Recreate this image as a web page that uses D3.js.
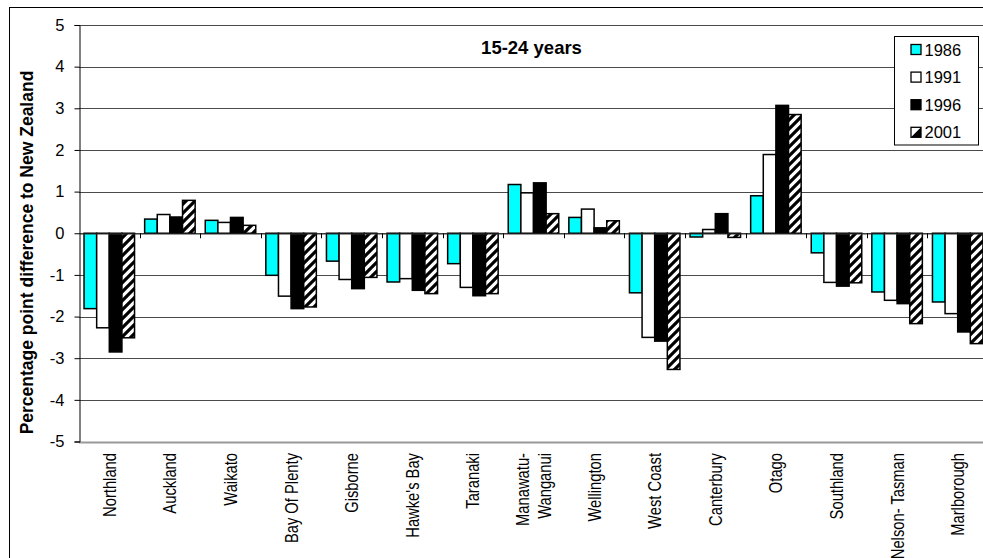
<!DOCTYPE html>
<html><head><meta charset="utf-8">
<script src="https://cdn.jsdelivr.net/npm/d3@7"></script>
<style>body{margin:0;background:#fff}svg{display:block;font-family:"Liberation Sans",Arial,sans-serif}</style>
</head><body>
<svg id="c" width="983" height="558"></svg>
<script>
const categories = ["Northland","Auckland","Waikato","Bay Of Plenty","Gisborne","Hawke's Bay","Taranaki","Manawatu-\nWanganui","Wellington","West Coast","Canterbury","Otago","Southland","Nelson- Tasman","Marlborough"];
const years = ["1986","1991","1996","2001"];
const v1986 = [-1.81,0.34,0.31,-1.01,-0.67,-1.17,-0.73,1.17,0.38,-1.43,-0.09,0.90,-0.47,-1.41,-1.65];
const v1991 = [-2.27,0.45,0.26,-1.51,-1.11,-1.09,-1.30,0.97,0.58,-2.50,0.09,1.89,-1.18,-1.61,-1.93];
const v1996 = [-2.85,0.39,0.38,-1.81,-1.33,-1.37,-1.50,1.21,0.13,-2.59,0.47,3.07,-1.27,-1.69,-2.37];
const v2001 = [-2.51,0.79,0.19,-1.77,-1.06,-1.45,-1.45,0.47,0.30,-3.27,-0.10,2.85,-1.19,-2.17,-2.65];
const yTicks = [5,4,3,2,1,0,-1,-2,-3,-4,-5];
const title = "15-24 years";
const yLabel = "Percentage point difference to New Zealand";

const series = [v1986, v1991, v1996, v2001];
const fills = ["#00ffff","#ffffff","#000000","url(#hatch)"];

const svg = d3.select("#c");
const defs = svg.append("defs");
const pat = defs.append("pattern").attr("id","hatch").attr("patternUnits","userSpaceOnUse")
  .attr("width",9).attr("height",9);
pat.append("rect").attr("width",9).attr("height",9).attr("fill","#fff");
pat.append("path").attr("d","M-1,10 L10,-1 M-3,3 L3,-3 M6,12 L12,6").attr("stroke","#000").attr("stroke-width",3.2);

// outer chart border
svg.append("rect").attr("x",9.5).attr("y",7.5).attr("width",1000).attr("height",600)
  .attr("fill","#fff").attr("stroke","#000").attr("stroke-width",1);

const L = 79, R = 988, T = 25, B = 441.5;
const y = d3.scaleLinear().domain([-5,5]).range([B,T]);
const x = d3.scaleBand().domain(categories).range([L,R]).paddingInner(0).paddingOuter(0);
const x1 = d3.scaleBand().domain(years).range([0,x.bandwidth()]).paddingInner(0).paddingOuter(0.4);

// gridlines
svg.append("g").selectAll("line").data(yTicks).join("line")
  .attr("x1",L).attr("x2",R).attr("y1",d=>Math.round(y(d))+0.5).attr("y2",d=>Math.round(y(d))+0.5)
  .attr("stroke",d=>d===-5?"#999":"#4a4a4a").attr("stroke-width",d=>d===-5?2:1);

// y axis
const yAxis = d3.axisLeft(y).tickValues(yTicks).tickSize(5).tickPadding(10).tickFormat(d=>String(d));
const gy = svg.append("g").attr("transform",`translate(${L+0.5},0)`).call(yAxis);
gy.select(".domain").attr("stroke","#000");
gy.selectAll(".tick line").attr("stroke","#000");
gy.selectAll(".tick text").attr("font-size",16.5).attr("fill","#000")
  .attr("font-family","'Liberation Sans',Arial,sans-serif");

// bars
const g = svg.append("g");
series.forEach((vals,si)=>{
  g.selectAll(null).data(vals).join("rect")
    .attr("x",(d,i)=>x(categories[i])+x1(years[si]))
    .attr("width",x1.bandwidth())
    .attr("y",d=>Math.min(y(d),y(0)))
    .attr("height",d=>Math.abs(y(d)-y(0)))
    .attr("fill",fills[si]).attr("stroke","#000").attr("stroke-width",1.5);
});

// category axis at zero
const xAxis = d3.axisBottom(x).tickSize(0).tickFormat("");
const gx = svg.append("g").attr("transform",`translate(0,${Math.round(y(0))+0.5})`).call(xAxis);
gx.select(".domain").attr("stroke","#333");
svg.append("g").selectAll("line").data(categories.slice(1)).join("line")
  .attr("x1",d=>Math.round(x(d))+0.5).attr("x2",d=>Math.round(x(d))+0.5)
  .attr("y1",y(0)).attr("y2",y(0)+5).attr("stroke","#000");

// category labels
const lab = svg.append("g").attr("font-size",18).attr("fill","#000");
categories.forEach(c=>{
  const lines = c.split("\n");
  const cx = x(c) + x.bandwidth()/2;
  const n = lines.length;
  lines.forEach((ln,k)=>{
    const off = (k-(n-1)/2)*21.5;
    lab.append("text")
      .attr("transform",`translate(${cx+off+6.5},453) rotate(-90) scale(0.82,1)`)
      .attr("text-anchor","end")
      .text(ln);
  });
});

// title
svg.append("text").attr("x",531.5).attr("y",54).attr("text-anchor","middle")
  .attr("font-size",18.5).attr("font-weight","bold").text(title);

// y label
svg.append("text").attr("transform","translate(33,252.5) rotate(-90)").attr("text-anchor","middle")
  .attr("font-size",17.5).attr("font-weight","bold").text(yLabel);

// legend
const lg = svg.append("g");
lg.append("rect").attr("x",894.5).attr("y",36.5).attr("width",84).attr("height",108.5)
  .attr("fill","#fff").attr("stroke","#000");
years.forEach((yr,i)=>{
  const cy = 49.5 + i*27.6;
  const sx = 911, sy = cy-5;
  if (i<3) {
    lg.append("rect").attr("x",sx).attr("y",sy).attr("width",10).attr("height",10)
      .attr("fill",fills[i]).attr("stroke","#000").attr("stroke-width",1.3);
  } else {
    lg.append("rect").attr("x",sx).attr("y",sy).attr("width",10).attr("height",10)
      .attr("fill","#fff").attr("stroke","#000").attr("stroke-width",1.3);
    lg.append("path").attr("d",`M${sx+10},${sy} L${sx+10},${sy+10} L${sx},${sy+10} Z`).attr("fill","#000");
  }
  lg.append("text").attr("x",924.5).attr("y",cy+6).attr("font-size",16.5).text(yr);
});
</script>
</body></html>
